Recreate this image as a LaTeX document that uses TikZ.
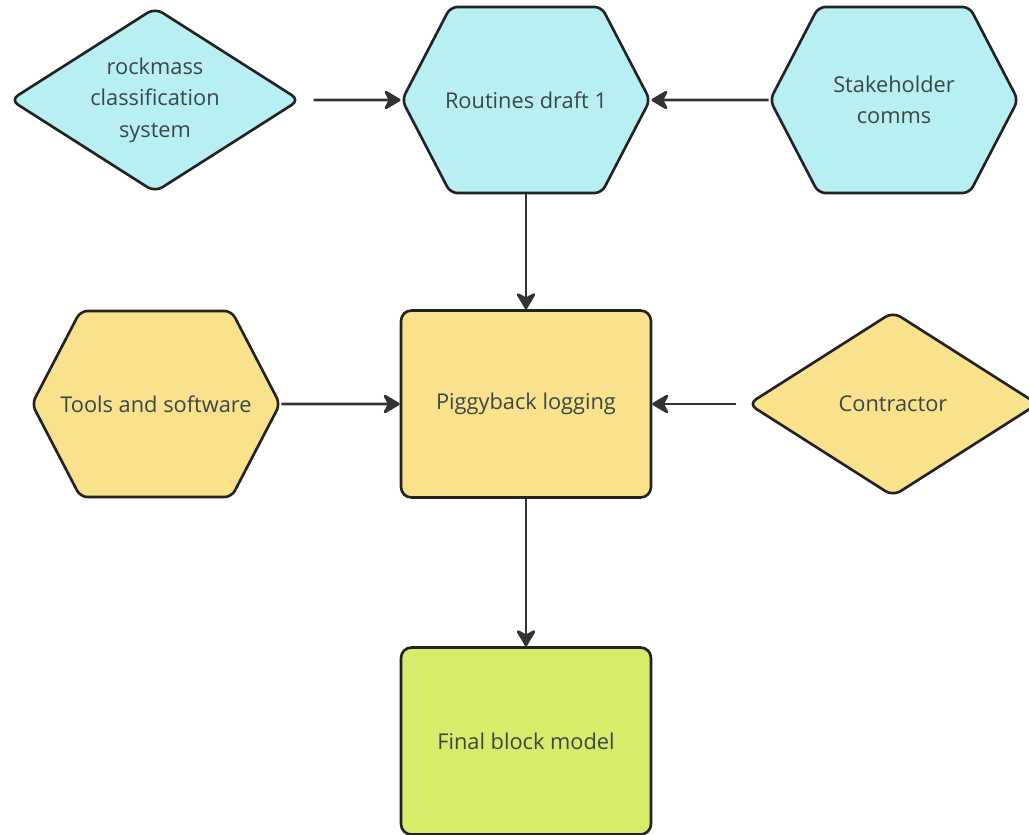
\documentclass[tikz,border=0pt]{standalone}
\usepackage{fontspec}
\setmainfont{Open Sans}
\usepackage{tikz}
\usetikzlibrary{arrows.meta,positioning,shapes.geometric,shapes.symbols}
\definecolor{cyanfill}{HTML}{B8EFF2}
\definecolor{yellowfill}{HTML}{FAE18B}
\definecolor{limefill}{HTML}{D9EB6A}
\definecolor{edgedark}{HTML}{222222}
\definecolor{linkdark}{HTML}{333333}
\definecolor{textdark}{HTML}{3A4748}

\begin{document}
\begin{tikzpicture}[
  font=\fontsize{12.4}{18}\selectfont,
  every node/.style={text=textdark, align=center},
  dia/.style={draw=edgedark, line width=1.5pt, diamond, aspect=1.57, inner sep=0pt, minimum width=5.8cm, minimum height=3.7cm, rounded corners=5pt},
  hexa/.style={draw=edgedark, line width=1.5pt, signal, signal to=east and west, signal pointer angle=125, inner sep=0pt, minimum width=4.96cm, minimum height=3.72cm, rounded corners=4pt},
  box/.style={draw=edgedark, line width=1.5pt, rectangle, minimum width=5.0cm, minimum height=3.74cm, rounded corners=6pt},
  link/.style={draw=linkdark, line width=1.6pt, -{Stealth[length=11pt, width=13pt, inset=3.5pt, round]}}
]
\useasboundingbox (0,0) rectangle (20.58,-16.68);

\node[dia, fill=cyanfill] (rock) at (3.1,-2.0) {rockmass\\classification\\system};
\node[hexa, fill=cyanfill] (draft) at (10.52,-2.0) {\makebox[0pt]{Routines draft 1}};
\node[hexa, fill=cyanfill] (stake) at (17.88,-2.0) {Stakeholder\\comms};

\node[hexa, fill=yellowfill] (tools) at (3.12,-8.08) {\makebox[0pt]{Tools and software}};
\node[box, fill=yellowfill] (piggy) at (10.52,-8.08) {Piggyback logging};
\node[dia, fill=yellowfill] (contr) at (17.86,-8.08) {Contractor};

\node[box, fill=limefill] (final) at (10.52,-14.82) {Final block model};

\draw[link, shorten <=7pt] (rock) -- (draft);
\draw[link] (stake) -- (draft);
\draw[link] (draft) -- (piggy);
\draw[link] (tools) -- (piggy);
\draw[link, shorten <=6pt] (contr) -- (piggy);
\draw[link] (piggy) -- (final);
\end{tikzpicture}
\end{document}
